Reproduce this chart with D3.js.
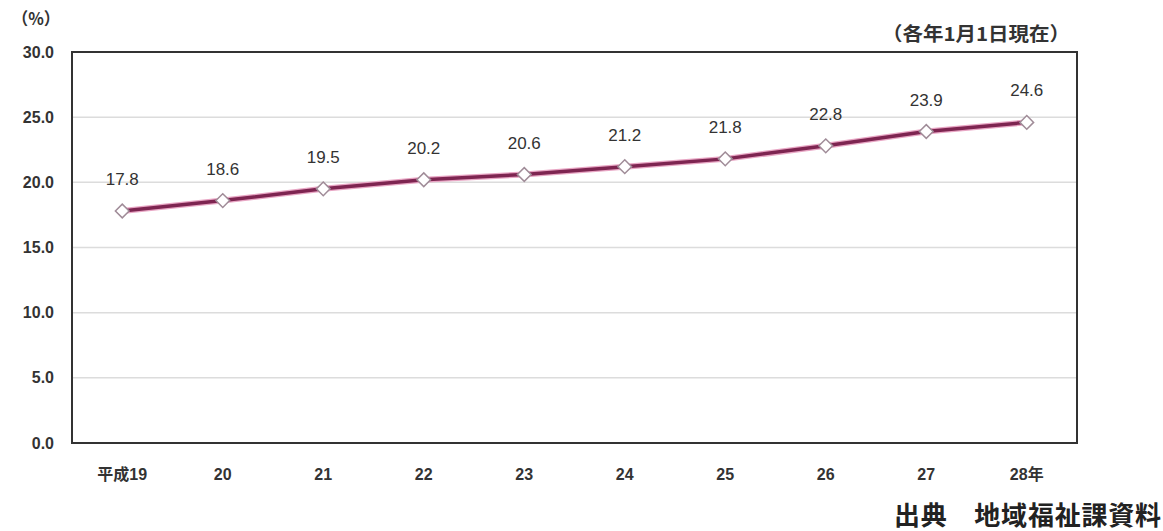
<!DOCTYPE html>
<html>
<head>
<meta charset="utf-8">
<script src="https://cdn.jsdelivr.net/npm/d3@7"></script>
<style>
  html, body { margin: 0; padding: 0; background: #fff; }
</style>
</head>
<body>
<svg id="chart" width="1163" height="531"></svg>
<script>
// 年次（平成）と割合（%）
const years = ["平成19", "20", "21", "22", "23", "24", "25", "26", "27", "28年"];
const rates = [17.8, 18.6, 19.5, 20.2, 20.6, 21.2, 21.8, 22.8, 23.9, 24.6];
const yTicks = [0, 5, 10, 15, 20, 25, 30];

const JP = "'Noto Sans CJK JP', 'Noto Sans', sans-serif";
const LAT = "'Liberation Sans', Arial, 'Noto Sans CJK JP', sans-serif";

const svg = d3.select("#chart");
const W = 1163, H = 531;
const margin = { left: 72, top: 52, right: W - 1077, bottom: H - 443 };

const x = d3.scaleBand().domain(years).range([margin.left, W - margin.right]);
const y = d3.scaleLinear().domain([0, 30]).range([H - margin.bottom, margin.top]);

// 横グリッド線
svg.append("g")
  .selectAll("line")
  .data(yTicks.filter(t => t > 0 && t < 30))
  .join("line")
  .attr("x1", margin.left).attr("x2", W - margin.right)
  .attr("y1", d => y(d)).attr("y2", d => y(d))
  .attr("stroke", "#dcdcdc").attr("stroke-width", 1.5);

// 枠
svg.append("rect")
  .attr("x", margin.left).attr("y", margin.top)
  .attr("width", W - margin.left - margin.right)
  .attr("height", H - margin.top - margin.bottom)
  .attr("fill", "none").attr("stroke", "#333").attr("stroke-width", 2);

// Y軸ラベル
const yAxis = d3.axisLeft(y).tickValues(yTicks).tickFormat(d3.format(".1f")).tickSize(0).tickPadding(18);
const gy = svg.append("g").attr("transform", `translate(${margin.left},0)`).call(yAxis);
gy.select(".domain").remove();
gy.selectAll("text")
  .style("font-family", LAT).style("font-size", "16px").style("font-weight", "bold")
  .attr("fill", "#333");

// X軸ラベル
const xAxis = d3.axisBottom(x).tickSize(0).tickPadding(26);
const gx = svg.append("g").attr("transform", `translate(0,${H - margin.bottom})`).call(xAxis);
gx.select(".domain").remove();
gx.selectAll("text")
  .style("font-family", LAT).style("font-size", "16px").style("font-weight", "bold")
  .attr("fill", "#333");

// 単位
svg.append("text").attr("x", 12).attr("y", 25)
  .style("font-family", JP).style("font-size", "17px").style("font-weight", "bold")
  .attr("fill", "#333").attr("textLength", 48).attr("lengthAdjust", "spacingAndGlyphs")
  .text("（%）");

svg.append("text").attr("x", 882).attr("y", 41)
  .style("font-family", JP).style("font-size", "19px").style("font-weight", "bold")
  .attr("fill", "#333").attr("textLength", 188).attr("lengthAdjust", "spacingAndGlyphs")
  .text("（各年1月1日現在）");

// 出典
svg.append("text").attr("x", 1161).attr("y", 525).attr("text-anchor", "end")
  .style("font-family", JP).style("font-size", "26px").style("font-weight", "bold")
  .attr("fill", "#222").attr("textLength", 267).attr("lengthAdjust", "spacing")
  .text("出典　地域福祉課資料");

// 折れ線
const cx = d => x(d) + x.bandwidth() / 2;
const line = d3.line().x((d, i) => cx(years[i])).y(d => y(d));
svg.append("path").datum(rates)
  .attr("d", line).attr("fill", "none")
  .attr("stroke", "#e8a6c4").attr("stroke-width", 6).attr("stroke-linejoin", "round");
svg.append("path").datum(rates)
  .attr("d", line).attr("fill", "none")
  .attr("stroke", "#7e2551").attr("stroke-width", 3.5).attr("stroke-linejoin", "round");

// マーカー（ひし形）
const diamond = d3.symbol().type(d3.symbolDiamond2).size(120);
svg.append("g").selectAll("path")
  .data(rates)
  .join("path")
  .attr("transform", (d, i) => `translate(${cx(years[i])},${y(d)})`)
  .attr("d", diamond)
  .attr("fill", "#fff").attr("stroke", "#a08c98").attr("stroke-width", 1.5);

// 値ラベル
svg.append("g").selectAll("text")
  .data(rates)
  .join("text")
  .attr("x", (d, i) => cx(years[i]))
  .attr("y", d => y(d) - 26)
  .attr("text-anchor", "middle")
  .style("font-family", LAT).style("font-size", "17px")
  .attr("fill", "#333")
  .text(d => d.toFixed(1));
</script>
</body>
</html>
